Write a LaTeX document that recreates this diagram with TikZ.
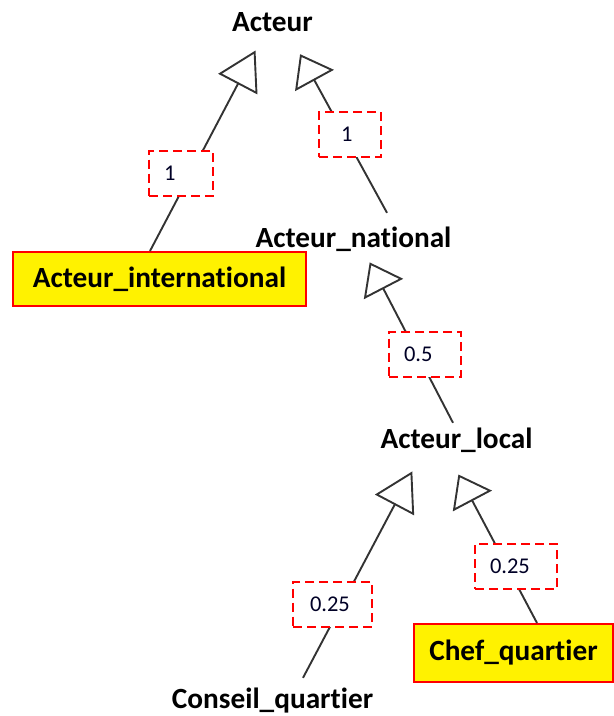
\documentclass[tikz,border=0pt]{standalone}
\usepackage{fontspec}
\setmainfont{Carlito}[Ligatures={NoCommon,NoRare}]
\usetikzlibrary{arrows.meta}

\tikzset{
  classname/.style={font=\fontsize{29.3}{32}\selectfont\bfseries, text=black,
    inner sep=0pt, text height=20pt, text depth=6pt, anchor=base},
  leafbox/.style={font=\fontsize{29.3}{32}\selectfont\bfseries, text=black,
    draw=red, fill=yellow, line width=2pt, inner sep=0pt},
  weightbox/.style={font=\fontsize{22.5}{24}\selectfont, text=black!85!blue,
    draw=red, dash pattern=on 9pt off 5pt, line width=2pt, fill=white,
    minimum height=45pt, inner xsep=15pt, inner ysep=0pt, align=left},
  genlink/.style={draw=black!80, line width=1.9pt},
  longtip/.style={-{Triangle[open, length=38pt, width=44pt]}},
  shorttip/.style={-{Triangle[open, length=30pt, width=44pt]}}
}

\begin{document}
\begin{tikzpicture}[x=1pt, y=-1pt]
  \useasboundingbox (0,0) rectangle (614,716);

  % class names
  \node[classname] (acteur)  at (272.5,31)  {Acteur};
  \node[classname] (natl)    at (353.5,247) {Acteur\_national};
  \node[classname] (local)   at (456.5,448) {Acteur\_local};
  \node[classname] (conseil) at (272.5,708) {Conseil\_quartier};

  % highlighted leaves
  \node[leafbox, minimum width=293pt, minimum height=54pt] (intl) at (159.5,279) {Acteur\_international};
  \node[leafbox, minimum width=199pt, minimum height=58pt] (chef) at (513.5,653) {Chef\_quartier};

  % generalisation tips under each parent
  \coordinate (tipIntl)    at (255.5,50.5);
  \coordinate (tipNatl)    at (300.1,54.2);
  \coordinate (tipLocal)   at (369.7,262.4);
  \coordinate (tipConseil) at (412.3,471.4);
  \coordinate (tipChef)    at (458.4,474.5);

  % generalisation links
  \draw[genlink, longtip]  ([xshift=-9.5pt]intl.north) -- (tipIntl);
  \draw[genlink, shorttip] ([shift={(33.5,-14)}]natl.north) -- (tipNatl);
  \draw[genlink, shorttip] ([shift={(-3.5,-5)}]local.north) -- (tipLocal);
  \draw[genlink, longtip]  ([shift={(30.5,-10)}]conseil.north) -- (tipConseil);
  \draw[genlink, shorttip] ([xshift=23.5pt]chef.north) -- (tipChef);

  % weights on the links
  \node[weightbox, text width=34pt] (wIntl)    at (181,173)   {1};
  \node[weightbox, text width=32pt] (wNatl)    at (350,134.5) {\hspace*{7pt}1};
  \node[weightbox, text width=42pt] (wLocal)   at (425,354)   {0.5};
  \node[weightbox, text width=49pt] (wConseil) at (332.5,604) {\hspace*{2pt}0.25};
  \node[weightbox, text width=52pt] (wChef)    at (516,566.5) {0.25};
\end{tikzpicture}
\end{document}
